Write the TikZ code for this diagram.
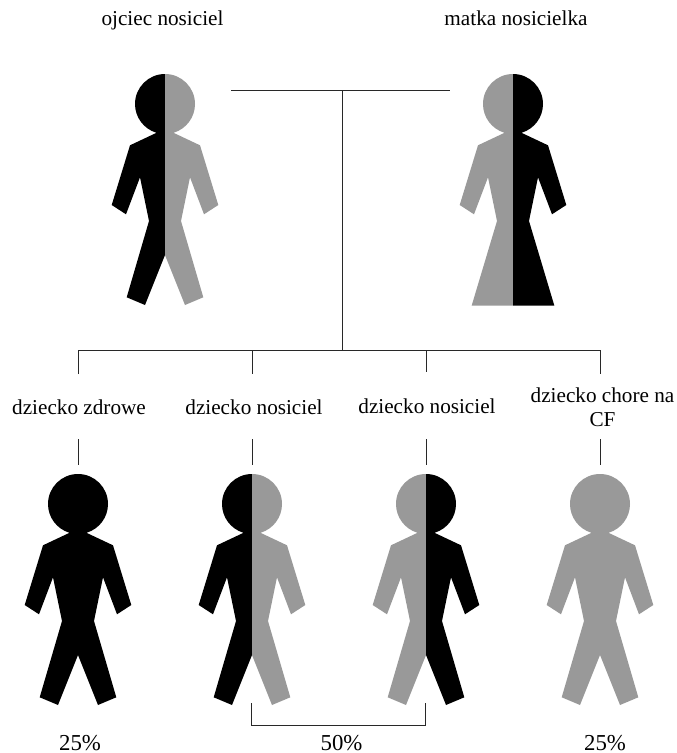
\documentclass[tikz,border=0pt]{standalone}
\usepackage{fontspec}
\setmainfont{Liberation Serif}
\definecolor{figgray}{RGB}{153,153,153}
\definecolor{linegray}{RGB}{40,40,40}
\tikzset{
  x=1pt,y=-1pt,
  conn/.style={draw=linegray,line width=1pt},
  lbl/.style={font=\fontsize{21.2}{24}\selectfont,inner sep=0pt,text=black,anchor=base},
  pct/.style={font=\fontsize{22.8}{25}\selectfont,inner sep=0pt,text=black,anchor=base},
}
% half figure: #1 center x, #2 y offset, #3 colour, #4 side (+1/-1)
\newcommand{\halfmale}[4]{%
  \fill[#3] (#1,#2+74) arc[start angle=-90,end angle=-90+#4*163,radius=30]
   -- (#1+#4*8.3,#2+132.7) -- (#1+#4*35,#2+145.3) -- (#1+#4*53.3,#2+205) -- (#1+#4*39,#2+214.3)
   -- (#1+#4*25,#2+177.3) -- (#1+#4*16,#2+221) -- (#1+#4*38.3,#2+297.3) -- (#1+#4*20,#2+305)
   -- (#1,#2+255) -- cycle;}
\newcommand{\halffemale}[4]{%
  \fill[#3] (#1,#2+74) arc[start angle=-90,end angle=-90+#4*163,radius=30]
   -- (#1+#4*8.3,#2+132.7) -- (#1+#4*35,#2+145.3) -- (#1+#4*53.3,#2+205) -- (#1+#4*39,#2+214.3)
   -- (#1+#4*25,#2+177.3) -- (#1+#4*16,#2+221) -- (#1+#4*41.3,#2+305.5)
   -- (#1,#2+305.5) -- cycle;}
\begin{document}
\begin{tikzpicture}
\useasboundingbox (0,0) rectangle (677,753);
\fill[white] (0,0) rectangle (677,753);
% figures
\halfmale{165}{0}{black}{-1}\halfmale{165}{0}{figgray}{1}
\halffemale{513}{0}{figgray}{-1}\halffemale{513}{0}{black}{1}
\halfmale{78}{400}{black}{-1}\halfmale{78}{400}{black}{1}
\halfmale{252}{400}{black}{-1}\halfmale{252}{400}{figgray}{1}
\halfmale{426}{400}{figgray}{-1}\halfmale{426}{400}{black}{1}
\halfmale{600}{400}{figgray}{-1}\halfmale{600}{400}{figgray}{1}
% labels
\node[lbl] (tf) at (162.5,25) {ojciec nosiciel};
\node[lbl] (tm) at (516,25) {matka nosicielka};
\node[lbl] (t1) at (79,414) {dziecko zdrowe};
\node[lbl] (t2) at (254,414) {dziecko nosiciel};
\node[lbl] (t3) at (427,413.5) {dziecko nosiciel};
\node[lbl] (t4a) at (602.5,402) {dziecko chore na};
\node[lbl] (t4b) at (602.5,426) {CF};
\node[pct] (p1) at (80,750.5) {25\%};
\node[pct] (p2) at (341.5,750.5) {50\%};
\node[pct] (p3) at (605,750.5) {25\%};
% connectors
\coordinate (pl) at (231,90);
\coordinate (pr) at (450,90);
\coordinate (pm) at (342,90);
\coordinate (bm) at (342,350);
\coordinate (b1) at (78,350);\coordinate (b2) at (252,350);\coordinate (b3) at (426,350);\coordinate (b4) at (600,350);
\coordinate (d1) at (78,374);\coordinate (d2) at (252,374);\coordinate (d3) at (426,372);\coordinate (d4) at (600,374);
\coordinate (e1) at (78,439);\coordinate (e2) at (252,439);\coordinate (e3) at (426,439);\coordinate (e4) at (600,439);
\coordinate (f1) at (78,465);\coordinate (f2) at (252,465);\coordinate (f3) at (426,465);\coordinate (f4) at (600,465);
\coordinate (ga) at (251.5,703);\coordinate (gb) at (251.5,725.5);\coordinate (gc) at (425,725.5);\coordinate (gd) at (425,703);
\draw[conn] (pl) -- (pr);
\draw[conn] (pm) -- (bm);
\draw[conn] (d1) -- (b1) -- (b4) -- (d4);
\draw[conn] (b2) -- (d2);
\draw[conn] (b3) -- (d3);
\draw[conn] (e1) -- (f1);
\draw[conn] (e2) -- (f2);
\draw[conn] (e3) -- (f3);
\draw[conn] (e4) -- (f4);
\draw[conn] (ga) -- (gb) -- (gc) -- (gd);
\end{tikzpicture}
\end{document}
